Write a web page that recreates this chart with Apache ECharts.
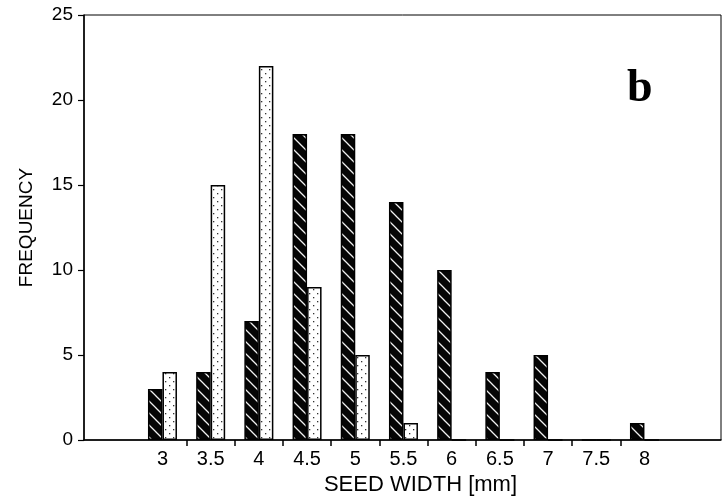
<!DOCTYPE html>
<html>
<head>
<meta charset="utf-8">
<script src="https://cdn.jsdelivr.net/npm/echarts@6/dist/echarts.min.js"></script>
<style>
  html, body { margin: 0; padding: 0; background: #fff; }
  #chart { width: 726px; height: 501px; }
</style>
</head>
<body>
<div id="chart"></div>
<script>
// seed width classes (mm)
var widths = [3, 3.5, 4, 4.5, 5, 5.5, 6, 6.5, 7, 7.5, 8];
// dark hatched bars
var darkFreq = [3, 4, 7, 18, 18, 14, 10, 4, 5, 0, 1];
// light dotted bars
var lightFreq = [4, 15, 22, 9, 5, 1, 0, 0, 0, 0, 0];
var yTicks = [0, 5, 10, 15, 20, 25];

// ticks sit between the classes
var tickMarks = widths.slice(1).map(function (w, i) { return (w + widths[i]) / 2; });

function hatchPattern() {
  var s = 12;
  var c = document.createElement("canvas");
  c.width = s; c.height = s;
  var g = c.getContext("2d");
  g.fillStyle = "#050505";
  g.fillRect(0, 0, s, s);
  g.strokeStyle = "#f0f0f0";
  g.lineWidth = 1.3;
  g.beginPath();
  g.moveTo(-2, -2); g.lineTo(s + 2, s + 2);
  g.moveTo(-s - 2, -2); g.lineTo(2, s + 2);
  g.moveTo(s - 2, -2); g.lineTo(2 * s + 2, s + 2);
  g.stroke();
  return c;
}

function dotPattern() {
  var c = document.createElement("canvas");
  c.width = 8; c.height = 8;
  var g = c.getContext("2d");
  g.fillStyle = "#fff";
  g.fillRect(0, 0, 8, 8);
  g.fillStyle = "#333";
  g.fillRect(1, 1, 1.3, 1.3);
  g.fillRect(5, 5, 1.3, 1.3);
  return c;
}

var chart = echarts.init(document.getElementById("chart"));
chart.setOption({
  backgroundColor: "#fff",
  animation: false,
  grid: {
    left: 84,
    right: 5,
    top: 15,
    bottom: 61,
    show: true,
    borderColor: "#000",
    borderWidth: 1
  },
  xAxis: {
    type: "value",
    min: 2.186,
    max: 8.794,
    name: "SEED WIDTH [mm]",
    nameLocation: "middle",
    nameGap: 33,
    nameTextStyle: {
      fontFamily: "Liberation Sans",
      fontSize: 22,
      color: "#000",
      padding: [0, 0, 0, 36]
    },
    splitLine: { show: false },
    axisLine: { onZero: false, lineStyle: { color: "#000", width: 1.5 } },
    axisTick: {
      customValues: tickMarks,
      length: 6,
      lineStyle: { color: "#000", width: 1.5 }
    },
    axisLabel: {
      customValues: widths,
      margin: 9,
      fontFamily: "Liberation Sans",
      fontSize: 20,
      color: "#000"
    }
  },
  yAxis: {
    type: "value",
    min: 0,
    max: 25,
    interval: 5,
    name: "FREQUENCY",
    nameLocation: "middle",
    nameGap: 48,
    nameTextStyle: {
      fontFamily: "Liberation Sans",
      fontSize: 19,
      color: "#000"
    },
    splitLine: { show: false },
    axisLine: { show: true, lineStyle: { color: "#000", width: 1.5 } },
    axisTick: { show: true, length: 6, lineStyle: { color: "#000", width: 1.2 } },
    axisLabel: {
      margin: 11,
      fontFamily: "Liberation Sans",
      fontSize: 19,
      color: "#000",
      customValues: yTicks
    }
  },
  series: [
    {
      type: "bar",
      barWidth: 14.5,
      barGap: "0%",
      data: widths.map(function (w, i) { return [w, darkFreq[i]]; }),
      itemStyle: {
        color: { image: hatchPattern(), repeat: "repeat" },
        borderColor: "#000",
        borderWidth: 1.5
      }
    },
    {
      type: "bar",
      barWidth: 14.5,
      barGap: "0%",
      data: widths.map(function (w, i) { return [w, lightFreq[i]]; }),
      itemStyle: {
        color: { image: dotPattern(), repeat: "repeat" },
        borderColor: "#000",
        borderWidth: 1.5
      }
    }
  ],
  graphic: [
    {
      type: "text",
      left: 627,
      top: 66,
      style: {
        text: "b",
        fontFamily: "Liberation Serif",
        fontWeight: "bold",
        fontSize: 46,
        fill: "#000"
      }
    }
  ]
});
</script>
</body>
</html>
